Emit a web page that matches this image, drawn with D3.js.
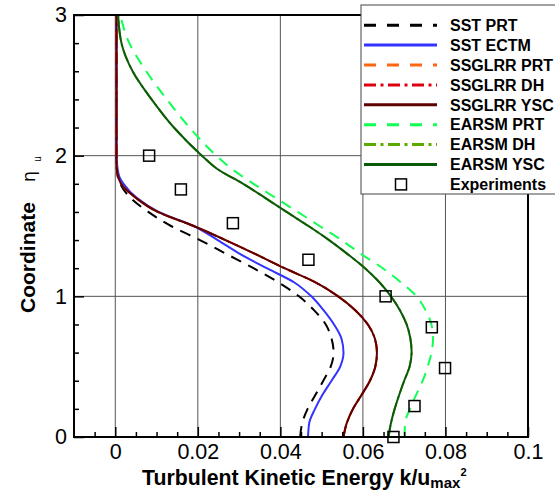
<!DOCTYPE html>
<html>
<head>
<meta charset="utf-8">
<script src="https://cdn.jsdelivr.net/npm/d3@7"></script>
<style>
   body { margin: 0; background: #fff; }
   svg { font-family: "Liberation Sans", Arial, Helvetica, sans-serif; }
</style>
</head>
<body>
<svg id="chart" width="555" height="496"></svg>
<script>
// DATA
var etaInner = [0, 0.1, 0.2, 0.3, 0.4, 0.5, 0.6, 0.7, 0.8, 0.9, 1.0, 1.1, 1.2, 1.3, 1.4, 1.5, 1.6, 1.7, 1.8, 1.85, 1.9, 1.95, 2.0, 2.5, 3.0];
var etaOuter = [0, 0.1, 0.2, 0.3, 0.4, 0.5, 0.6, 0.7, 0.8, 0.9, 1.0, 1.1, 1.2, 1.3, 1.4, 1.5, 1.6, 1.7, 1.8, 1.9, 2.0, 2.2, 2.4, 2.6, 2.8, 3.0];

var sstPrtK = [0.0448, 0.0453, 0.0466, 0.0485, 0.0504, 0.0522, 0.0529, 0.0524, 0.0510, 0.0482, 0.0445, 0.0395, 0.0335, 0.0270, 0.0205, 0.0135, 0.0080, 0.0037, 0.0012, 0.0006, 0.0004, 0.0003, 0.0003, 0.0003, 0.0003];
var sstEctmK = [0.0467, 0.0470, 0.0484, 0.0502, 0.0524, 0.0545, 0.0553, 0.0548, 0.0530, 0.0505, 0.0475, 0.0433, 0.0367, 0.0303, 0.0248, 0.0190, 0.0105, 0.0052, 0.0020, 0.0010, 0.0006, 0.0004, 0.0003, 0.0003, 0.0003];
var ssglrrPrtK = [0.0553, 0.0561, 0.0576, 0.0597, 0.0617, 0.0630, 0.0634, 0.0629, 0.0612, 0.0582, 0.0540, 0.0485, 0.0410, 0.0340, 0.0267, 0.0190, 0.0103, 0.0050, 0.0014, 0.0007, 0.0004, 0.0003, 0.0003, 0.0003, 0.0003];
var ssglrrDhK = [0.0553, 0.0561, 0.0576, 0.0597, 0.0617, 0.0630, 0.0634, 0.0629, 0.0612, 0.0582, 0.0540, 0.0485, 0.0410, 0.0340, 0.0267, 0.0190, 0.0103, 0.0050, 0.0014, 0.0007, 0.0004, 0.0003, 0.0003, 0.0003, 0.0003];
var ssglrrYscK = [0.0553, 0.0561, 0.0576, 0.0597, 0.0617, 0.0630, 0.0634, 0.0629, 0.0612, 0.0582, 0.0540, 0.0485, 0.0410, 0.0340, 0.0267, 0.0190, 0.0103, 0.0050, 0.0014, 0.0007, 0.0004, 0.0003, 0.0003, 0.0003, 0.0003];
var earsmPrtK = [0.0701, 0.0702, 0.0714, 0.0729, 0.0745, 0.0757, 0.0766, 0.0770, 0.0766, 0.0752, 0.0730, 0.0692, 0.0648, 0.0596, 0.0548, 0.0495, 0.0442, 0.0388, 0.0335, 0.0285, 0.0245, 0.0180, 0.0125, 0.0075, 0.0034, 0.0012];
var earsmDhK = [0.0662, 0.0668, 0.0677, 0.0688, 0.0700, 0.0713, 0.0718, 0.0715, 0.0706, 0.0690, 0.0668, 0.0640, 0.0605, 0.0563, 0.0518, 0.0468, 0.0415, 0.0363, 0.0310, 0.0250, 0.0210, 0.0142, 0.0088, 0.0042, 0.0015, 0.0007];
var earsmYscK = [0.0662, 0.0668, 0.0677, 0.0688, 0.0700, 0.0713, 0.0718, 0.0715, 0.0706, 0.0690, 0.0668, 0.0640, 0.0605, 0.0563, 0.0518, 0.0468, 0.0415, 0.0363, 0.0310, 0.0250, 0.0210, 0.0142, 0.0088, 0.0042, 0.0015, 0.0007];

var expK = [0.0674, 0.0725, 0.0799, 0.0767, 0.0655, 0.0468, 0.0285, 0.0159, 0.0082];
var expEta = [0.0, 0.22, 0.49, 0.78, 1.0, 1.26, 1.52, 1.76, 2.0];

var seriesNames = ['SST PRT', 'SST ECTM', 'SSGLRR PRT', 'SSGLRR DH', 'SSGLRR YSC', 'EARSM PRT', 'EARSM DH', 'EARSM YSC'];
var experimentsName = 'Experiments';

var xTickValues = [0, 0.02, 0.04, 0.06, 0.08, 0.1];
var xTickLabels = ['0', '0.02', '0.04', '0.06', '0.08', '0.1'];
var yTickValues = [0, 1, 2, 3];
var yTickLabels = ['0', '1', '2', '3'];
var xMinorTicks = [-0.005, 0.005, 0.01, 0.015, 0.025, 0.03, 0.035, 0.045, 0.05, 0.055, 0.065, 0.07, 0.075, 0.085, 0.09, 0.095];
var yMinorTicks = [0.2, 0.4, 0.6, 0.8, 1.2, 1.4, 1.6, 1.8, 2.2, 2.4, 2.6, 2.8];

// styles for each series, in legend order
var seriesStyles = [
   {k: sstPrtK, eta: etaInner, color: '#000000', dash: '11,8', legendDash: '12,11'},
   {k: sstEctmK, eta: etaInner, color: '#3333ff', dash: null, legendDash: null},
   {k: ssglrrPrtK, eta: etaInner, color: '#ff6611', dash: '11,8', legendDash: '12,11'},
   {k: ssglrrDhK, eta: etaInner, color: '#dd0010', dash: '12,4,3,4', legendDash: '12,4.5,3,4.5'},
   {k: ssglrrYscK, eta: etaInner, color: '#5c0000', dash: null, legendDash: null},
   {k: earsmPrtK, eta: etaOuter, color: '#11ff55', dash: '11,8', legendDash: '12,11'},
   {k: earsmDhK, eta: etaOuter, color: '#5aaa00', dash: '12,4,3,4', legendDash: '12,4.5,3,4.5'},
   {k: earsmYscK, eta: etaOuter, color: '#0b5a0b', dash: null, legendDash: null}
];

var series = seriesNames.map(function (name, i) {
   var style = seriesStyles[i];
   return {
      name: name,
      color: style.color,
      dash: style.dash,
      legendDash: style.legendDash,
      points: style.k.map(function (k, j) {
         return {k: k, eta: style.eta[j]};
      })
   };
});

var experiments = expK.map(function (k, i) {
   return {k: k, eta: expEta[i]};
});

// LAYOUT
var svg = d3.select('#chart');

var bounds = {left: 74, top: 15, right: 528, bottom: 437};

var xScale = d3.scaleLinear()
   .domain([-0.01, 0.1])
   .range([bounds.left, bounds.right]);

var yScale = d3.scaleLinear()
   .domain([0, 3])
   .range([bounds.bottom, bounds.top]);

svg.append('defs').append('clipPath')
   .attr('id', 'plot-clip')
   .append('rect')
   .attr('x', bounds.left)
   .attr('y', bounds.top)
   .attr('width', bounds.right - bounds.left)
   .attr('height', bounds.bottom - bounds.top);

// grid lines
var grid = svg.append('g').attr('class', 'grid');

grid.selectAll('.vgrid')
   .data(xTickValues.slice(0, -1))
   .enter().append('line')
   .attr('class', 'vgrid')
   .attr('x1', function (d) { return xScale(d); })
   .attr('x2', function (d) { return xScale(d); })
   .attr('y1', bounds.top)
   .attr('y2', bounds.bottom)
   .attr('stroke', '#555')
   .attr('stroke-width', 1);

grid.selectAll('.hgrid')
   .data(yTickValues.slice(1, -1))
   .enter().append('line')
   .attr('class', 'hgrid')
   .attr('x1', bounds.left)
   .attr('x2', bounds.right)
   .attr('y1', function (d) { return yScale(d); })
   .attr('y2', function (d) { return yScale(d); })
   .attr('stroke', '#555')
   .attr('stroke-width', 1);

// curves
var line = d3.line()
   .x(function (d) { return xScale(d.k); })
   .y(function (d) { return yScale(d.eta); })
   .curve(d3.curveMonotoneY);

svg.append('g')
   .attr('class', 'curves')
   .attr('clip-path', 'url(#plot-clip)')
   .selectAll('path')
   .data(series)
   .enter().append('path')
   .attr('d', function (d) { return line(d.points); })
   .attr('fill', 'none')
   .attr('stroke', function (d) { return d.color; })
   .attr('stroke-width', 2)
   .attr('stroke-dasharray', function (d) { return d.dash; });

// experiment squares
var squareSize = 11;

svg.append('g')
   .attr('class', 'experiments')
   .selectAll('rect')
   .data(experiments)
   .enter().append('rect')
   .attr('x', function (d) { return xScale(d.k) - squareSize / 2; })
   .attr('y', function (d) { return yScale(d.eta) - squareSize / 2; })
   .attr('width', squareSize)
   .attr('height', squareSize)
   .attr('fill', 'none')
   .attr('stroke', '#000')
   .attr('stroke-width', 1.5);

// axes
var xAxis = d3.axisBottom(xScale)
   .tickValues(xTickValues)
   .tickFormat(function (d, i) { return xTickLabels[i]; })
   .tickSizeInner(-10)
   .tickSizeOuter(0)
   .tickPadding(7);

var xMinorAxis = d3.axisBottom(xScale)
   .tickValues(xMinorTicks)
   .tickFormat('')
   .tickSizeInner(-5)
   .tickSizeOuter(0);

var yAxis = d3.axisLeft(yScale)
   .tickValues(yTickValues)
   .tickFormat(function (d, i) { return yTickLabels[i]; })
   .tickSizeInner(-10)
   .tickSizeOuter(0)
   .tickPadding(7);

var yMinorAxis = d3.axisLeft(yScale)
   .tickValues(yMinorTicks)
   .tickFormat('')
   .tickSizeInner(-5)
   .tickSizeOuter(0);

[
   {axis: xAxis, transform: 'translate(0,' + bounds.bottom + ')'},
   {axis: xMinorAxis, transform: 'translate(0,' + bounds.bottom + ')'},
   {axis: yAxis, transform: 'translate(' + bounds.left + ',0)'},
   {axis: yMinorAxis, transform: 'translate(' + bounds.left + ',0)'}
].forEach(function (a) {
   var g = svg.append('g')
      .attr('transform', a.transform)
      .call(a.axis);

   g.select('.domain').remove();
   g.selectAll('.tick line').attr('stroke', '#000').attr('stroke-width', 1.5);
   g.selectAll('.tick text')
      .attr('fill', '#000')
      .style('font-family', '"Liberation Sans", Arial, sans-serif')
      .style('font-size', '21.5px');
});

// frame
svg.append('rect')
   .attr('x', bounds.left)
   .attr('y', bounds.top)
   .attr('width', bounds.right - bounds.left)
   .attr('height', bounds.bottom - bounds.top)
   .attr('fill', 'none')
   .attr('stroke', '#000')
   .attr('stroke-width', 2);

// axis titles
var xTitle = svg.append('text')
   .attr('x', 142)
   .attr('y', 485)
   .attr('fill', '#000')
   .style('font-weight', 'bold')
   .style('font-size', '21.3px');

xTitle.append('tspan').text('Turbulent Kinetic Energy k/u');
xTitle.append('tspan').attr('dy', 3).style('font-size', '15px').text('max');
xTitle.append('tspan').attr('dx', 0).attr('dy', -12).style('font-size', '11px').text('2');

var yTitle = svg.append('text')
   .attr('transform', 'translate(35,313) rotate(-90)')
   .attr('fill', '#000')
   .style('font-size', '21px');

yTitle.append('tspan').style('font-weight', 'bold').text('Coordinate');
yTitle.append('tspan')
   .attr('dx', 20)
   .style('font-family', '"DejaVu Sans", sans-serif')
   .style('font-size', '18px')
   .text('\u03b7');
yTitle.append('tspan').attr('dx', 9).attr('dy', 6).style('font-size', '10px').text('u');

// legend
var legend = svg.append('g').attr('class', 'legend');

legend.append('rect')
   .attr('x', 361)
   .attr('y', 5)
   .attr('width', 210)
   .attr('height', 189)
   .attr('fill', '#fff')
   .attr('stroke', '#444')
   .attr('stroke-width', 1);

var legendRowY = function (i) {
   return 25.2 + i * 19.9;
};

var legendItem = legend.selectAll('.legendItem')
   .data(series)
   .enter().append('g')
   .attr('class', 'legendItem')
   .attr('transform', function (d, i) {
      return 'translate(0,' + legendRowY(i) + ')';
   });

legendItem.append('line')
   .attr('x1', 364)
   .attr('x2', 437)
   .attr('stroke', function (d) { return d.color; })
   .attr('stroke-width', 3)
   .attr('stroke-dasharray', function (d) { return d.legendDash; });

legendItem.append('text')
   .attr('x', 450)
   .attr('dy', '0.36em')
   .attr('fill', '#000')
   .style('font-weight', 'bold')
   .style('font-size', '16px')
   .text(function (d) { return d.name; });

var expLegend = legend.append('g')
   .attr('transform', 'translate(0,' + legendRowY(series.length) + ')');

expLegend.append('rect')
   .attr('x', 401 - squareSize / 2)
   .attr('y', -squareSize / 2)
   .attr('width', squareSize)
   .attr('height', squareSize)
   .attr('fill', 'none')
   .attr('stroke', '#000')
   .attr('stroke-width', 1.5);

expLegend.append('text')
   .attr('x', 450)
   .attr('dy', '0.36em')
   .attr('fill', '#000')
   .style('font-weight', 'bold')
   .style('font-size', '16px')
   .text(experimentsName);
</script>
</body>
</html>
